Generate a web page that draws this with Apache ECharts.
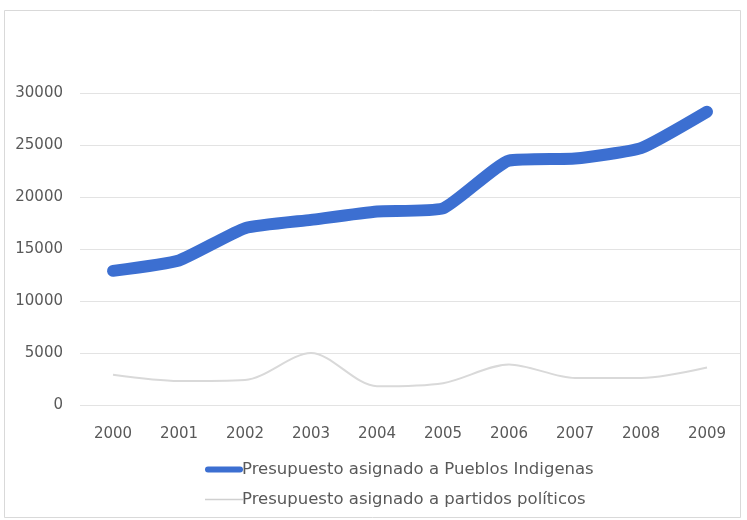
<!DOCTYPE html>
<html>
<head>
<meta charset="utf-8">
<script src="https://cdn.jsdelivr.net/npm/echarts@6/dist/echarts.min.js"></script>
<style>
  html, body { margin: 0; padding: 0; background: #fff; }
  #chart { width: 747px; height: 520px; }
</style>
</head>
<body>
<div id="chart"></div>
<script>
// Years on the horizontal axis
const years = ['2000', '2001', '2002', '2003', '2004', '2005', '2006', '2007', '2008', '2009'];

// Budget series
const pueblosIndigenas = [12900, 13900, 17000, 17800, 18600, 18900, 23500, 23700, 24700, 28200];
const partidosPoliticos = [2900, 2300, 2400, 5000, 1800, 2100, 3900, 2600, 2600, 3600];

const seriesNames = [
  'Presupuesto asignado a Pueblos Indigenas',
  'Presupuesto asignado a partidos políticos'
];

const textColor = '#595959';
const fontFamily = 'DejaVu Sans, sans-serif';

const chart = echarts.init(document.getElementById('chart'), null, { renderer: 'canvas' });

chart.setOption({
  backgroundColor: '#ffffff',
  animation: false,
  graphic: [{
    type: 'rect',
    shape: { x: 4.5, y: 10.5, width: 736, height: 507 },
    style: { fill: 'none', stroke: '#d9d9d9', lineWidth: 1 },
    z: -1
  }],
  grid: { left: 80, top: 93, width: 660, height: 312 },
  legend: {
    orient: 'vertical',
    left: 200,
    top: 456,
    itemGap: 13,
    itemWidth: 38,
    itemHeight: 14,
    textStyle: { color: textColor, fontFamily: fontFamily, fontSize: 16.5, padding: [0, 0, 0, -6] },
    data: [
      { name: seriesNames[0], icon: 'path://M3,0 H35 A3,3 0 0 1 35,6 H3 A3,3 0 0 1 3,0 Z', itemStyle: { color: '#3c6fd1' } },
      { name: seriesNames[1], icon: 'path://M0,0 H38 V1.5 H0 Z', itemStyle: { color: '#d0d0d0' } }
    ]
  },
  xAxis: {
    type: 'category',
    data: years,
    boundaryGap: true,
    axisLine: { show: false },
    axisTick: { show: false },
    axisLabel: { color: textColor, fontFamily: fontFamily, fontSize: 15, margin: 22 }
  },
  yAxis: {
    type: 'value',
    min: 0,
    max: 30000,
    interval: 5000,
    axisLine: { show: false },
    axisTick: { show: false },
    splitLine: { lineStyle: { color: '#e3e3e3', width: 1 } },
    axisLabel: {
      color: textColor, fontFamily: fontFamily, fontSize: 15, margin: 17,
      formatter: function (v) { return String(v); }
    }
  },
  series: [
    {
      name: seriesNames[0],
      type: 'line',
      data: pueblosIndigenas,
      smooth: 0.15,
      symbol: 'none',
      lineStyle: { color: '#3c6fd1', width: 12, cap: 'round', join: 'round' },
      itemStyle: { color: '#3c6fd1' },
      z: 3
    },
    {
      name: seriesNames[1],
      type: 'line',
      data: partidosPoliticos,
      smooth: 0.3,
      symbol: 'none',
      lineStyle: { color: '#d9d9d9', width: 2 },
      itemStyle: { color: '#d9d9d9' },
      z: 2
    }
  ]
});
</script>
</body>
</html>
